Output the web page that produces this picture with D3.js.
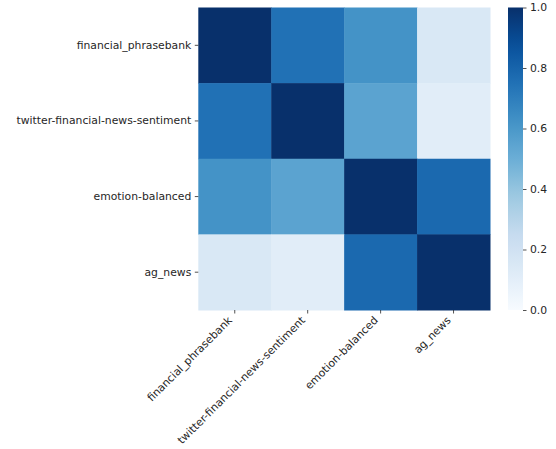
<!DOCTYPE html>
<html><head><meta charset="utf-8">
<script src="https://cdn.jsdelivr.net/npm/d3@7"></script>
<style>body{margin:0;background:#fff}svg{display:block;font-family:"DejaVu Sans",sans-serif}</style>
</head><body><svg id="c" width="556" height="449"></svg>
<script>
const categories = ["financial_phrasebank","twitter-financial-news-sentiment","emotion-balanced","ag_news"];
const row0 = [1.00, 0.75, 0.62, 0.15];
const row1 = [0.75, 1.00, 0.55, 0.11];
const row2 = [0.62, 0.55, 1.00, 0.78];
const row3 = [0.15, 0.11, 0.78, 1.00];
const matrix = [row0,row1,row2,row3];
const cbarTicks = [0.0,0.2,0.4,0.6,0.8,1.0];

const bluesStops = ['#f7fbff','#deebf7','#c6dbef','#9ecae1','#6baed6','#4292c6','#2171b5','#08519c','#08306b'];
const blues = d3.scaleLinear().domain(d3.range(9).map(i=>i/8)).range(bluesStops).interpolate(d3.interpolateRgb).clamp(true);

const svg = d3.select("#c");
const L=198.3, R=490, T=7.5, B=310;
const FS = 10.8;
const x = d3.scaleBand().domain(categories).range([L,R]);
const y = d3.scaleBand().domain(categories).range([T,B]);

const cells=[];
matrix.forEach((r,i)=>r.forEach((v,j)=>cells.push({r:categories[i],c:categories[j],v})));
svg.append("g").selectAll("rect").data(cells).join("rect")
  .attr("x",d=>x(d.c)).attr("y",d=>y(d.r))
  .attr("width",x.bandwidth()+0.5).attr("height",y.bandwidth()+0.5)
  .attr("fill",d=>blues(d.v));

// y axis
const ya = svg.append("g").attr("transform",`translate(${L},0)`)
  .call(d3.axisLeft(y).tickSize(3.5).tickPadding(3.5));
ya.select(".domain").remove();
ya.selectAll("text").attr("font-size",FS).attr("fill","#262626").attr("font-family","DejaVu Sans");
ya.selectAll("line").attr("stroke","#262626").attr("stroke-width",0.8);

// x axis
const xa = svg.append("g").attr("transform",`translate(0,${B})`)
  .call(d3.axisBottom(x).tickSize(3.5).tickPadding(3.5));
xa.select(".domain").remove();
xa.selectAll("line").attr("stroke","#262626").attr("stroke-width",0.8);
xa.selectAll("text").attr("font-size",FS).attr("fill","#262626").attr("font-family","DejaVu Sans")
  .attr("text-anchor","end").attr("dy",null).attr("y",null)
  .attr("transform","translate(-2,11) rotate(-45)");

// colorbar
const cbL=508, cbR=523;
const cy = d3.scaleLinear().domain([0,1]).range([B,T]);
const defs = svg.append("defs");
const grad = defs.append("linearGradient").attr("id","g").attr("x1",0).attr("y1",1).attr("x2",0).attr("y2",0);
d3.range(0,1.0001,0.05).forEach(t=>grad.append("stop").attr("offset",t).attr("stop-color",blues(t)));
svg.append("rect").attr("x",cbL).attr("y",T).attr("width",cbR-cbL).attr("height",B-T).attr("fill","url(#g)");
const ca = svg.append("g").attr("transform",`translate(${cbR},0)`)
  .call(d3.axisRight(cy).tickValues(cbarTicks).tickFormat(d3.format(".1f")).tickSize(3.5).tickPadding(3.5));
ca.select(".domain").remove();
ca.selectAll("text").attr("font-size",FS).attr("fill","#262626").attr("font-family","DejaVu Sans");
ca.selectAll("line").attr("stroke","#262626").attr("stroke-width",0.8);
</script></body></html>
